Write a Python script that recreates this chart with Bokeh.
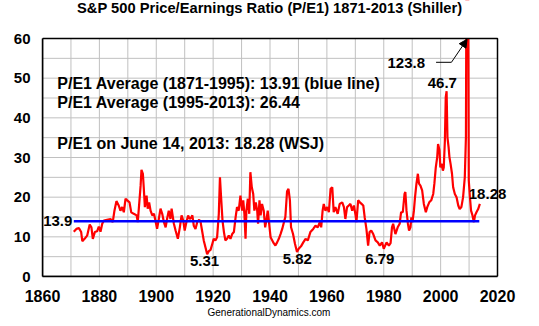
from bokeh.plotting import figure
from bokeh.models import (FixedTicker, Label, Arrow, NormalHead, Range1d,
                          BoxAnnotation, Title)
from bokeh.embed import file_html
from bokeh.resources import INLINE

# ---- data ----
years = [
    1871.0, 1871.9, 1872.8, 1873.6, 1874.0, 1874.8, 1875.7, 1876.6, 1877.2, 1877.7,
    1878.4, 1879.2, 1879.8, 1880.4, 1881.0, 1881.6, 1882.7, 1883.9, 1884.7, 1885.3,
    1886.0, 1886.8, 1887.4, 1888.0, 1888.6, 1889.2, 1889.8, 1890.6, 1891.2, 1892.1,
    1893.1, 1893.5, 1894.1, 1894.5, 1894.8, 1895.3, 1895.6, 1896.0, 1896.6, 1897.0,
    1897.5, 1898.0, 1898.6, 1899.2, 1899.7, 1900.3, 1900.9, 1901.5, 1902.1, 1902.7,
    1903.3, 1903.8, 1904.4, 1905.0, 1905.4, 1906.2, 1906.8, 1907.6, 1908.3, 1908.9,
    1909.5, 1910.0, 1910.6, 1911.2, 1911.8, 1912.3, 1912.7, 1913.2, 1913.8, 1914.4,
    1915.1, 1915.6, 1916.1, 1916.7, 1917.3, 1917.9, 1918.5, 1919.1, 1919.7, 1920.2,
    1920.8, 1921.4, 1922.0, 1922.4, 1922.8, 1923.3, 1923.8, 1924.3, 1924.9, 1925.5,
    1926.1, 1926.7, 1927.3, 1927.9, 1928.4, 1929.0, 1929.6, 1930.2, 1930.6, 1931.0,
    1931.4, 1931.7, 1932.2, 1932.7, 1933.1, 1933.6, 1934.1, 1934.5, 1935.0, 1935.5,
    1935.8, 1936.3, 1936.7, 1937.2, 1937.8, 1938.3, 1938.8, 1939.2, 1939.7, 1940.2,
    1940.8, 1941.3, 1941.9, 1942.5, 1943.1, 1943.7, 1944.3, 1944.9, 1945.4, 1946.0,
    1946.5, 1947.0, 1947.4, 1948.1, 1948.8, 1949.5, 1950.1, 1950.9, 1951.7, 1952.5,
    1953.3, 1954.2, 1955.2, 1956.0, 1956.8, 1957.5, 1958.0, 1958.5, 1958.9, 1959.5,
    1960.1, 1960.7, 1961.3, 1961.9, 1962.4, 1963.0, 1963.8, 1964.5, 1965.4, 1966.0,
    1966.5, 1967.1, 1967.7, 1968.3, 1968.9, 1969.5, 1970.1, 1970.4, 1971.0, 1971.6,
    1972.2, 1972.8, 1973.3, 1973.9, 1974.5, 1975.0, 1975.6, 1976.3, 1977.1, 1977.9,
    1978.6, 1979.4, 1980.0, 1981.0, 1981.8, 1982.4, 1982.9, 1983.3, 1984.1, 1984.9,
    1985.6, 1986.1, 1986.7, 1987.3, 1987.6, 1988.0, 1988.5, 1988.9, 1989.4, 1989.7,
    1990.1, 1990.6, 1991.0, 1991.5, 1992.0, 1992.4, 1992.9, 1993.5, 1994.1, 1994.8,
    1995.3, 1996.0, 1996.7, 1997.4, 1997.8, 1998.3, 1998.8, 1999.1, 1999.6, 1999.9,
    2000.3, 2000.8, 2001.1, 2001.5, 2001.8, 2002.1, 2002.4, 2002.8, 2003.1, 2003.5,
    2004.0, 2004.4, 2005.0, 2005.6, 2006.2, 2006.7, 2007.3, 2007.9, 2008.5, 2008.9,
    2009.05, 2009.4, 2009.7, 2009.9, 2010.3, 2010.7, 2011.2, 2011.7, 2012.1, 2012.6,
    2013.2, 2013.8,
]
pe1 = [
    11.3, 12.0, 12.2, 11.2, 8.9, 9.5, 10.3, 13.1, 12.4, 9.5,
    11.2, 11.4, 12.6, 11.3, 13.3, 14.1, 14.3, 14.5, 13.7, 16.6,
    19.0, 17.9, 16.6, 17.5, 16.2, 19.6, 19.2, 18.7, 16.2, 15.8,
    15.4, 13.7, 19.2, 22.9, 26.9, 25.9, 22.5, 17.5, 20.4, 17.1,
    18.7, 16.6, 15.4, 15.8, 14.1, 12.0, 14.5, 17.1, 15.8, 13.7,
    12.4, 14.5, 16.6, 14.5, 17.1, 13.3, 11.6, 9.5, 12.4, 15.4,
    14.1, 11.6, 13.7, 15.4, 14.5, 14.9, 15.4, 12.8, 12.0, 13.7,
    14.3, 13.7, 11.6, 9.1, 7.4, 5.6, 6.4, 6.7, 8.2, 9.5,
    9.1, 9.9, 15.8, 25.0, 20.0, 14.1, 11.2, 9.1, 9.5, 10.3,
    9.5, 10.7, 11.2, 14.9, 17.5, 16.6, 20.4, 16.6, 19.2, 15.8,
    9.5, 16.6, 19.6, 15.8, 26.3, 22.5, 20.8, 16.6, 18.7, 16.6,
    13.3, 19.2, 15.4, 18.3, 16.6, 12.4, 14.5, 16.6, 13.3, 9.9,
    9.1, 8.4, 7.8, 8.6, 9.5, 10.7, 12.0, 13.7, 15.0, 21.5,
    22.1, 19.2, 12.4, 10.7, 8.2, 6.2, 7.0, 7.6, 8.6, 9.5,
    9.1, 11.2, 12.0, 12.8, 12.4, 13.7, 12.4, 16.6, 18.3, 16.6,
    17.5, 16.2, 22.1, 22.5, 16.2, 17.5, 15.8, 18.3, 18.7, 17.5,
    14.5, 17.5, 17.9, 18.3, 16.6, 17.9, 15.4, 13.7, 19.2, 18.7,
    18.3, 17.9, 14.9, 12.0, 7.8, 11.2, 11.6, 10.7, 9.1, 8.6,
    7.8, 8.6, 7.0, 8.6, 7.8, 8.4, 12.4, 13.3, 10.7, 12.4,
    13.3, 16.2, 16.2, 20.8, 21.3, 16.6, 13.3, 11.6, 12.4, 14.9,
    13.7, 16.6, 20.0, 23.4, 25.9, 23.4, 22.9, 21.7, 18.3, 16.2,
    17.5, 18.7, 19.2, 20.8, 23.4, 27.5, 30.1, 33.4, 31.8, 27.5,
    28.4, 26.7, 27.5, 34.3, 45.2, 46.7, 35.1, 32.6, 30.1, 28.4,
    25.9, 22.5, 20.8, 20.0, 17.9, 17.0, 17.5, 20.0, 25.0, 35.1,
    70.0, 123.8, 70.0, 24.2, 20.0, 16.6, 15.4, 13.7, 15.4, 16.2,
    17.0, 18.3,
]
avg_years = [1871.0, 2013.6]
avg_value = [13.9, 13.9]

x_start, x_end = 1860, 2020
y_start, y_end = 0, 60
x_ticks = [1860, 1880, 1900, 1920, 1940, 1960, 1980, 2000, 2020]
x_minor = [1870, 1890, 1910, 1930, 1950, 1970, 1990, 2010]
y_ticks = [0, 10, 20, 30, 40, 50, 60]
y_minor = [5, 15, 25, 35, 45, 55]

FONT = "Liberation Sans"

# The plotting frame extends to the right and top canvas edges, so that notes and
# the title can sit outside the 1860-2020 x 0-60 box that is drawn as the plot area.
px_per_year = 455.0 / (x_end - x_start)
px_per_unit = 238.0 / (y_end - y_start)
x_view_end = x_start + 497.0 / px_per_year
y_view_end = y_start + 276.0 / px_per_unit

p = figure(width=539, height=326, output_backend="svg", toolbar_location=None,
           x_range=Range1d(x_start, x_view_end), y_range=Range1d(y_start, y_view_end),
           min_border_left=42, min_border_right=0, min_border_top=0,
           min_border_bottom=50)
p.background_fill_color = "white"
p.border_fill_color = "white"
p.outline_line_color = None
p.grid.visible = False

xt = FixedTicker(ticks=x_ticks, minor_ticks=x_minor)
yt = FixedTicker(ticks=y_ticks, minor_ticks=y_minor)

for ax in (p.xaxis[0], p.yaxis[0]):
    ax.major_tick_line_color = None
    ax.minor_tick_line_color = None
    ax.axis_line_color = "black"
    ax.axis_line_width = 1.5
    ax.major_label_text_font = FONT
    ax.major_label_text_font_style = "bold"
    ax.major_label_text_color = "black"

p.xaxis[0].ticker = xt
p.yaxis[0].ticker = yt
p.xaxis[0].bounds = (x_start, x_end)
p.yaxis[0].bounds = (y_start, y_end)
p.xaxis[0].major_label_text_font_size = "16px"
p.yaxis[0].major_label_text_font_size = "15px"
p.xaxis[0].major_label_standoff = 7
p.yaxis[0].major_label_standoff = 6

p.add_layout(Title(text="GenerationalDynamics.com", text_font=FONT,
                   text_font_style="normal", text_font_size="10px",
                   text_color="black", align="left", offset=165, standoff=0), "below")

# grid lines at every major and minor tick, inside the plot box
gx = sorted(x_ticks + x_minor)
gy = sorted(y_ticks + y_minor)
p.segment(x0=gx, y0=[y_start] * len(gx), x1=gx, y1=[y_end] * len(gx),
          line_color="#c0c0c0", line_width=1)
p.segment(x0=[x_start] * len(gy), y0=gy, x1=[x_end] * len(gy), y1=gy,
          line_color="#c0c0c0", line_width=1)

p.line(years, pe1, line_color="#ff0000", line_width=2.2)
p.line(avg_years, avg_value, line_color="#0000ff", line_width=2.5)

# blank out whatever rises above the plot box (drawn as a glyph after the data line)
p.quad(left=[x_start - 20], right=[x_view_end + 20], bottom=[y_end],
       top=[y_view_end + 200], fill_color="white", fill_alpha=1.0, line_color=None)
# plot box border
p.add_layout(BoxAnnotation(left=x_start, right=x_end, bottom=y_start, top=y_end,
                           fill_color=None, fill_alpha=0, line_color="black",
                           line_width=1.5, line_alpha=1.0))

def lab(x, y, text, size="15px", align="left"):
    p.add_layout(Label(x=x, y=y, text=text, text_font=FONT, text_font_style="bold",
                       text_font_size=size, text_align=align, text_baseline="middle",
                       text_color="black"))

lab(1939.9, 67.8, "S&P 500 Price/Earnings Ratio (P/E1) 1871-2013 (Shiller)",
    size="14.7px", align="center")
lab(1865.2, 48.7, "P/E1 Average (1871-1995): 13.91 (blue line)", size="16px")
lab(1865.2, 43.9, "P/E1 Average (1995-2013): 26.44", size="16px")
lab(1865.2, 33.6, "P/E1 on June 14, 2013: 18.28 (WSJ)", size="16px")
lab(1870.5, 13.9, "13.9", align="right")
lab(1917.0, 4.0, "5.31", align="center")
lab(1949.6, 4.3, "5.82", align="center")
lab(1978.6, 4.5, "6.79", align="center")
lab(2016.5, 20.9, "18.28", align="center")
lab(2000.6, 48.9, "46.7", align="center")
lab(1987.9, 53.9, "123.8", align="center")

p.line([1998.4, 2003.8], [54.0, 54.0], line_color="black", line_width=1)
p.add_layout(Arrow(end=NormalHead(size=8, fill_color="black", line_color="black"),
                   x_start=2003.8, y_start=54.0, x_end=2009.3, y_end=59.8,
                   line_color="black", line_width=1))

open("out.html", "w").write(file_html(p, INLINE))
